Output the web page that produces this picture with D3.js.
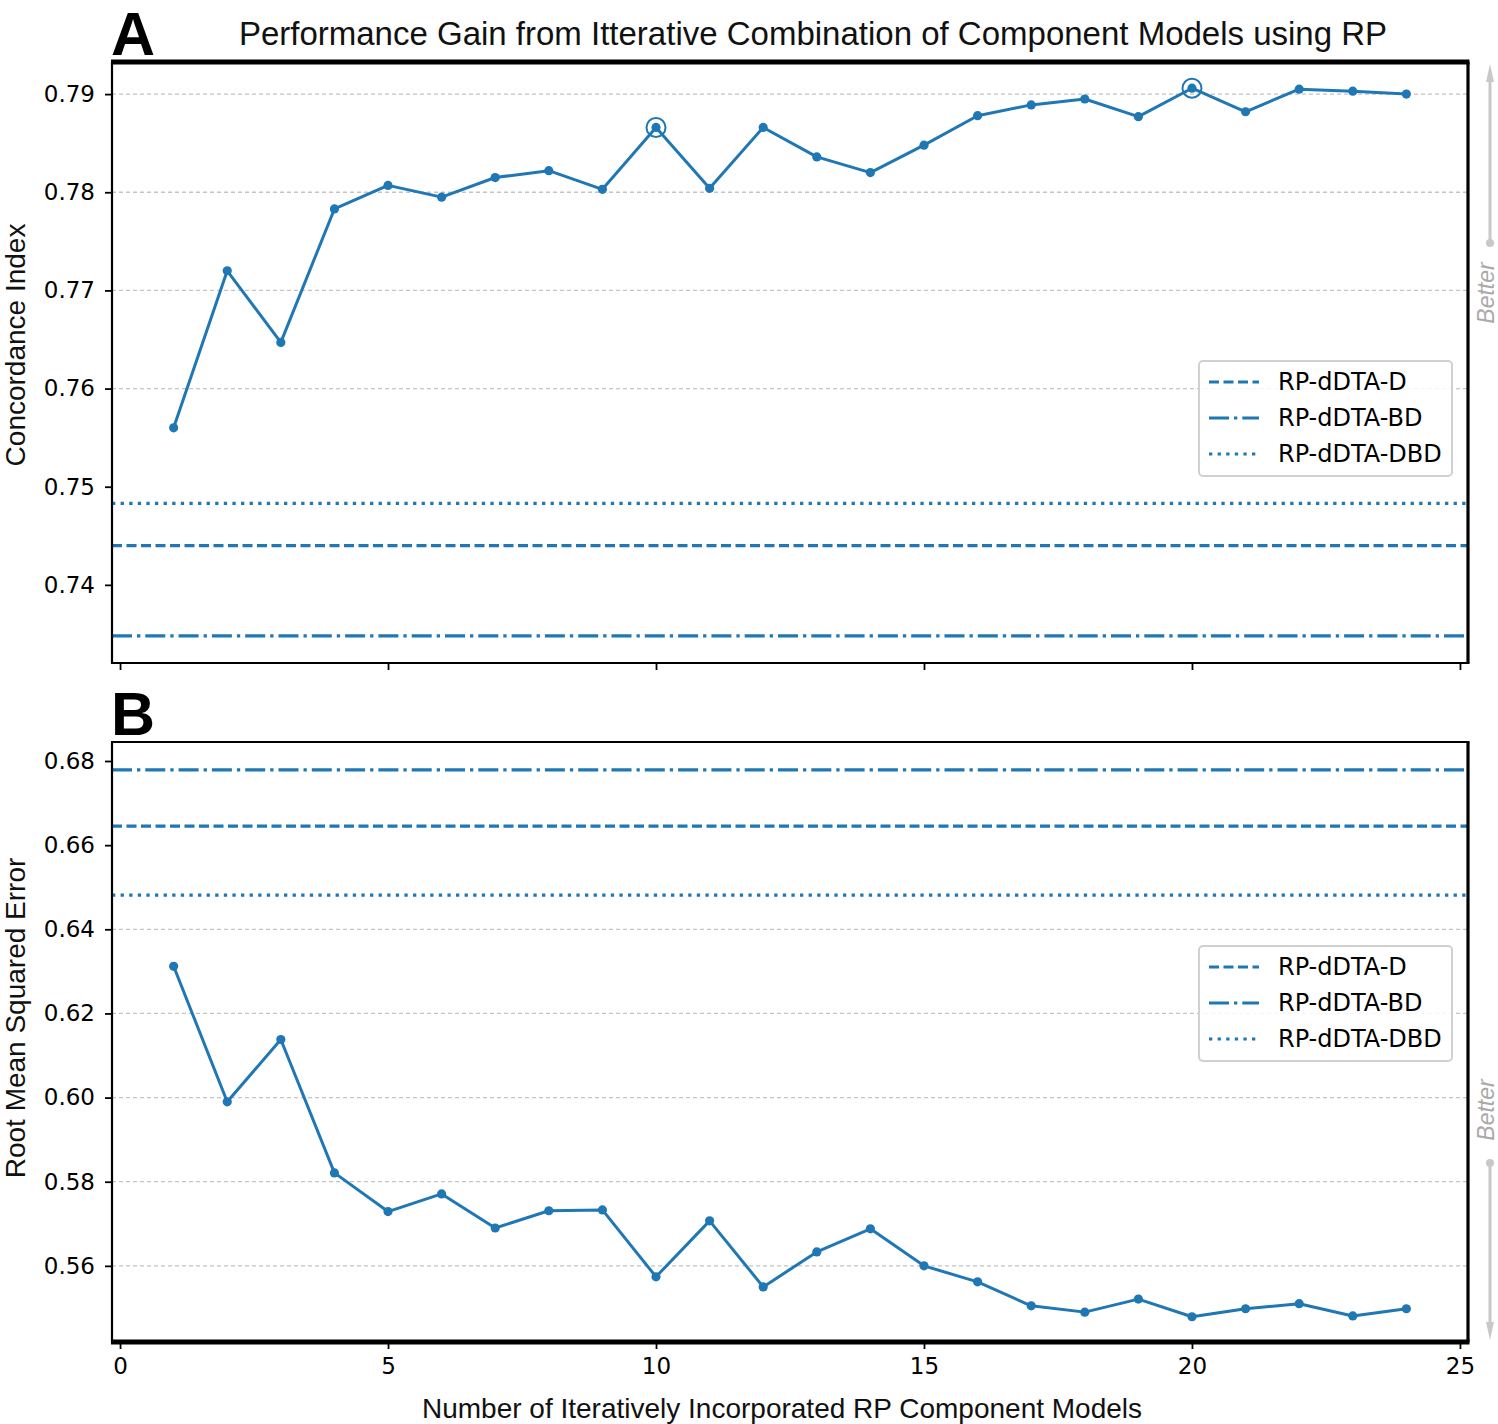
<!DOCTYPE html>
<html><head><meta charset="utf-8">
<script src="https://cdn.jsdelivr.net/npm/d3@7"></script>
<style>body{margin:0;background:#fff}</style>
</head><body>
<svg id="c" width="1498" height="1424"></svg>
<script>
const xs = d3.range(1, 25);
const ciValues = [0.7560,0.7720,0.7647,0.7783,0.7807,0.7795,0.7815,0.7822,0.7803,0.7866,0.7804,0.7866,0.7836,0.7820,0.7848,0.7878,0.7889,0.7895,0.7877,0.7906,0.7882,0.7905,0.7903,0.7900];
const rmseValues = [0.6312,0.5990,0.6138,0.5821,0.5729,0.5771,0.5690,0.5731,0.5733,0.5574,0.5707,0.5550,0.5633,0.5688,0.5600,0.5562,0.5505,0.5490,0.5521,0.5479,0.5498,0.5510,0.5481,0.5498];
const baselineNames = ["RP-dDTA-D","RP-dDTA-BD","RP-dDTA-DBD"];
const ciBaselines = [0.7440,0.7348,0.7483];
const rmseBaselines = [0.6645,0.6779,0.6481];
const ciTicks = [0.74,0.75,0.76,0.77,0.78,0.79];
const ciGrid = [0.76,0.77,0.78,0.79];
const rmseTicks = [0.56,0.58,0.60,0.62,0.64,0.66,0.68];
const rmseGrid = [0.56,0.58,0.60,0.62,0.64];
const xTicks = [0,5,10,15,20,25];
const highlightX = [10,20];

const blue = "#1f77b4";
const dashes = ["10,4.5","20,5,3.3,5","3.3,5.3"];
const svg = d3.select("#c");
const L = 112, R = 1468;
const x = d3.scaleLinear().domain([-0.15, 25.15]).range([L, R]);

function panel(cfg){
  const {top, bottom, domain, vals, base, ticks, grid, label, labelY, letter, showX, thickTop, arrowUp, legendY} = cfg;
  const y = d3.scaleLinear().domain(domain).range([bottom, top]);
  const g = svg.append("g");
  g.selectAll(".grid").data(grid).join("line")
    .attr("x1", L).attr("x2", R).attr("y1", d=>y(d)).attr("y2", d=>y(d))
    .attr("stroke","#c4c4c4").attr("stroke-width",1.3).attr("stroke-dasharray","4,3");
  g.selectAll(".base").data(base).join("line")
    .attr("x1", L).attr("x2", R).attr("y1", d=>y(d)).attr("y2", d=>y(d))
    .attr("stroke",blue).attr("stroke-width",3.2)
    .attr("stroke-dasharray",(d,i)=>dashes[i]);
  const pts = xs.map((d,i)=>[d, vals[i]]);
  g.append("path").datum(pts)
    .attr("d", d3.line().x(d=>x(d[0])).y(d=>y(d[1])))
    .attr("fill","none").attr("stroke",blue).attr("stroke-width",3).attr("stroke-linejoin","round");
  g.selectAll(".pt").data(pts).join("circle")
    .attr("cx", d=>x(d[0])).attr("cy", d=>y(d[1])).attr("r",4.6).attr("fill",blue);
  if (cfg.highlight){
    g.selectAll(".hl").data(pts.filter(d=>highlightX.includes(d[0]))).join("circle")
      .attr("cx", d=>x(d[0])).attr("cy", d=>y(d[1])).attr("r",9.5)
      .attr("fill","none").attr("stroke",blue).attr("stroke-width",2);
  }
  const ya = g.append("g").attr("transform",`translate(${L},0)`)
    .call(d3.axisLeft(y).tickValues(ticks).tickFormat(d3.format(".2f")).tickSize(7).tickPadding(10));
  ya.select(".domain").remove();
  ya.selectAll("line").attr("stroke","#000").attr("stroke-width",1.8);
  ya.selectAll("text").attr("font-family","DejaVu Sans").attr("font-size",23).attr("fill","#000");
  const xa = g.append("g").attr("transform",`translate(0,${bottom})`)
    .call(d3.axisBottom(x).tickValues(xTicks).tickSize(7).tickPadding(9));
  xa.select(".domain").remove();
  xa.selectAll("line").attr("stroke","#000").attr("stroke-width",1.8);
  xa.selectAll("text").attr("font-family","DejaVu Sans").attr("font-size",23).attr("fill","#000")
    .style("display", showX ? null : "none");
  const thin = 2.2;
  g.append("line").attr("x1",L).attr("x2",L).attr("y1",top).attr("y2",bottom).attr("stroke","#000").attr("stroke-width",thin);
  g.append("line").attr("x1",R).attr("x2",R).attr("y1",top).attr("y2",bottom).attr("stroke","#000").attr("stroke-width",3.2);
  g.append("line").attr("x1",L-1).attr("x2",R+1.5).attr("y1",top).attr("y2",top).attr("stroke","#000").attr("stroke-width",thickTop?5:thin);
  g.append("line").attr("x1",L-1).attr("x2",R+1.5).attr("y1",bottom).attr("y2",bottom).attr("stroke","#000").attr("stroke-width",thickTop?thin:5);
  g.append("text").attr("transform",`translate(25,${labelY}) rotate(-90)`)
    .attr("text-anchor","middle").attr("font-family","Liberation Sans")
    .attr("font-size",28).attr("fill","#111").text(label);
  g.append("text").attr("x",111).attr("y",top-7).attr("font-family","Liberation Sans")
    .attr("font-weight","bold").attr("font-size",61).attr("fill","#000").text(letter);
  const lx = 1199, lw = 253, lh = 115;
  const lg = g.append("g").attr("transform",`translate(${lx},${legendY})`);
  lg.append("rect").attr("width",lw).attr("height",lh).attr("rx",4)
    .attr("fill","#fff").attr("fill-opacity",0.85).attr("stroke","#d0d0d0").attr("stroke-width",2);
  baselineNames.forEach((n,i)=>{
    const yy = 21 + i*36;
    lg.append("line").attr("x1",10).attr("x2",60).attr("y1",yy).attr("y2",yy)
      .attr("stroke",blue).attr("stroke-width",3.2).attr("stroke-dasharray",dashes[i]);
    lg.append("text").attr("x",79).attr("y",yy+8).attr("font-family","DejaVu Sans")
      .attr("font-size",24).attr("fill","#000").text(n);
  });
  const ax = 1490;
  const grey = "#c8c8c8";
  if (arrowUp){
    g.append("line").attr("x1",ax).attr("x2",ax).attr("y1",243).attr("y2",80).attr("stroke",grey).attr("stroke-width",3);
    g.append("path").attr("d",`M${ax-4},82 L${ax},64 L${ax+4},82 Z`).attr("fill",grey);
    g.append("circle").attr("cx",ax).attr("cy",243).attr("r",4).attr("fill",grey);
    g.append("text").attr("transform",`translate(${ax+4},293) rotate(-90)`).attr("text-anchor","middle")
      .attr("font-family","Liberation Sans").attr("font-style","italic").attr("font-size",23).attr("fill","#aaa").text("Better");
  } else {
    g.append("line").attr("x1",ax).attr("x2",ax).attr("y1",1163).attr("y2",1325).attr("stroke",grey).attr("stroke-width",3);
    g.append("path").attr("d",`M${ax-4},1322 L${ax},1340 L${ax+4},1322 Z`).attr("fill",grey);
    g.append("circle").attr("cx",ax).attr("cy",1163).attr("r",4).attr("fill",grey);
    g.append("text").attr("transform",`translate(${ax+4},1110) rotate(-90)`).attr("text-anchor","middle")
      .attr("font-family","Liberation Sans").attr("font-style","italic").attr("font-size",23).attr("fill","#aaa").text("Better");
  }
}

panel({top:62, bottom:663, domain:[0.73204,0.79327], vals:ciValues, base:ciBaselines, ticks:ciTicks, grid:ciGrid,
  label:"Concordance Index", labelY:345, letter:"A", showX:false, thickTop:true, arrowUp:true, legendY:361, highlight:true});
panel({top:742, bottom:1342, domain:[0.54190,0.68452], vals:rmseValues, base:rmseBaselines, ticks:rmseTicks, grid:rmseGrid,
  label:"Root Mean Squared Error", labelY:1018, letter:"B", showX:true, thickTop:false, arrowUp:false, legendY:946, highlight:false});

svg.append("text").attr("x",813).attr("y",45).attr("text-anchor","middle")
  .attr("font-family","Liberation Sans").attr("font-size",33).attr("fill","#111")
  .text("Performance Gain from Itterative Combination of Component Models using RP");
svg.append("text").attr("x",782).attr("y",1418).attr("text-anchor","middle")
  .attr("font-family","Liberation Sans").attr("font-size",28).attr("fill","#111")
  .text("Number of Iteratively Incorporated RP Component Models");
</script>
</body></html>
